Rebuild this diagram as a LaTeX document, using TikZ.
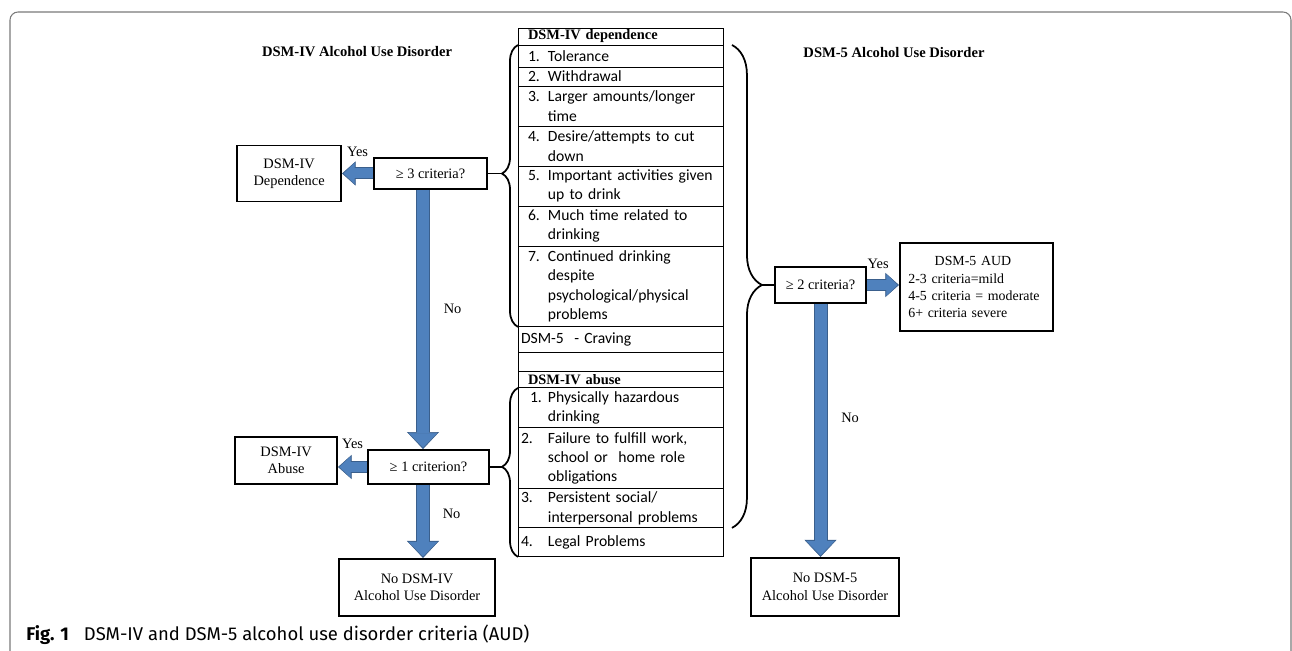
\documentclass[tikz,border=0pt]{standalone}
\usepackage{fontspec}
\setmainfont{Liberation Serif}
\newfontfamily\calibri{Carlito}
\newfontfamily\capfont{Fira Sans}
\usetikzlibrary{arrows.meta,decorations.pathreplacing,positioning}

\definecolor{arrowblue}{HTML}{4F81BD}
\definecolor{arrowedge}{HTML}{3A5F8C}
\definecolor{framegray}{HTML}{7A7A7A}

% numbered criterion with hanging text
\newcommand{\crit}[3][0.4cm]{\hspace*{\dimexpr0.4cm-#1\relax}\makebox[#1][l]{#2}\parbox[t]{3.4cm}{\raggedright #3}}

\tikzset{
  box/.style={draw, line width=1.1pt, align=center, inner sep=1pt, font=\fontsize{8.2}{9.8}\selectfont},
  cell/.style={draw, line width=0.5pt, anchor=north west, outer sep=0pt, minimum width=4.1cm, text width=3.7cm,
    inner xsep=0.2cm, inner ysep=0pt, align=left, font=\calibri\fontsize{8.9}{11}\selectfont},
  hdrcell/.style={font=\bfseries\fontsize{8.2}{9.8}\selectfont},
  title/.style={font=\bfseries\fontsize{8.3}{10}\selectfont},
  lbl/.style={text=black, font=\fontsize{8.2}{9.8}\selectfont, inner sep=1pt},
  bigarrow/.style={arrowblue, line width=0.24cm, -{Triangle[width=0.57cm,length=0.29cm,line width=0.3pt]}, shorten >=0.03cm,
    preaction={draw=arrowedge, line width=0.28cm, -{Triangle[width=0.64cm,length=0.34cm,line width=0.3pt]}, shorten >=0cm}},
  smallarrow/.style={arrowblue, line width=0.2cm, -{Triangle[width=0.42cm,length=0.22cm,line width=0.3pt]}, shorten >=0.03cm,
    preaction={draw=arrowedge, line width=0.24cm, -{Triangle[width=0.48cm,length=0.27cm,line width=0.3pt]}, shorten >=0cm}},
  curly/.style 2 args={decorate, decoration={brace, amplitude=#1, aspect=#2}, line width=1pt},
}

\begin{document}
\begin{tikzpicture}[x=0.02cm, y=-0.02cm]
\useasboundingbox (0,0) rectangle (1292,651);
\draw[framegray, line width=0.6pt, rounded corners=0.16cm] (10,12) rectangle (1291,690);

% titles
\node[title] (ttl4) at (357,52) {DSM-IV Alcohol Use Disorder};
\node[title] (ttl5) at (894,53) {DSM-5 Alcohol Use Disorder};

% DSM-IV side
\node[box, minimum width=2.26cm, minimum height=0.62cm] (crit3) at (430.5,173.5) {≥ 3 criteria?};
\node[box, minimum width=2.08cm, minimum height=1.12cm, left=0.62cm of crit3] (dep) {DSM-IV\\Dependence};
\node[box, minimum width=2.42cm, minimum height=0.68cm] (crit1) at (428.5,467) {≥ 1 criterion?};
\node[box, minimum width=2.04cm, minimum height=0.94cm, left=0.58cm of crit1, yshift=0.13cm] (abuse) {DSM-IV\\Abuse};
\node[box, minimum width=3.12cm, minimum height=1.14cm, below=1.46cm of crit1, xshift=-0.23cm] (noIV) {No DSM-IV\\Alcohol Use Disorder};

% DSM-5 side
\node[box, minimum width=1.82cm, minimum height=0.72cm] (crit2) at (820.5,285) {≥ 2 criteria?};
\node[box, minimum width=3.06cm, minimum height=1.76cm, text width=2.72cm, align=left, right=0.64cm of crit2, yshift=-0.04cm,
  font=\fontsize{7.9}{9.7}\selectfont] (aud)
  {\makebox[2.58cm]{DSM-5 AUD}\\2-3 criteria=mild\\4-5 criteria = moderate\\6+ criteria severe};
\node[box, minimum width=2.96cm, minimum height=1.16cm, below=5.06cm of crit2, xshift=0.09cm] (noV) {No DSM-5\\Alcohol Use Disorder};

% criteria table
\node[cell, hdrcell, minimum height=0.34cm] (dhdr) at (518,28) {DSM-IV dependence};
\node[cell, minimum height=0.44cm] (d1) at (dhdr.south west) {\crit{1.}{Tolerance}};
\node[cell, minimum height=0.38cm] (d2) at (d1.south west) {\crit{2.}{Withdrawal}};
\node[cell, minimum height=0.80cm] (d3) at (d2.south west) {\crit{3.}{Larger amounts/longer\\time}};
\node[cell, minimum height=0.80cm] (d4) at (d3.south west) {\crit{4.}{Desire/attempts to cut\\down}};
\node[cell, minimum height=0.80cm] (d5) at (d4.south west) {\crit{5.}{Important activities given\\up to drink}};
\node[cell, minimum height=0.80cm] (d6) at (d5.south west) {\crit{6.}{Much time related to\\drinking}};
\node[cell, minimum height=1.62cm] (d7) at (d6.south west) {\crit{7.}{Continued drinking\\despite\\psychological/physical\\problems}};
\node[cell, minimum height=0.52cm] (crav) at (d7.south west) {\hspace*{-0.14cm}DSM-5\ \ - Craving};
\node[cell, minimum height=0.38cm] (blank) at (crav.south west) {};
\node[cell, hdrcell, minimum height=0.32cm] (ahdr) at (blank.south west) {DSM-IV abuse};
\node[cell, minimum height=0.80cm] (a1) at (ahdr.south west) {\crit[0.36cm]{1.}{Physically hazardous\\drinking}};
\node[cell, minimum height=1.22cm] (a2) at (a1.south west) {\crit[0.54cm]{2.}{Failure to fulfill work,\\school or\ \ home role\\obligations}};
\node[cell, minimum height=0.78cm] (a3) at (a2.south west) {\crit[0.54cm]{3.}{Persistent social/\\interpersonal problems}};
\node[cell, minimum height=0.58cm] (a4) at (a3.south west) {\crit[0.54cm]{4.}{Legal Problems}};

% braces
\coordinate (tipdep) at (502,173.5);
\coordinate (tipab) at (502,467);
\coordinate (tip5) at (762,285);
\draw[curly={0.32cm}{0.544}] (d7.south west) -- (d1.north west);
\draw[curly={0.32cm}{0.533}] (a4.south west) -- (a1.north west);
\draw[curly={0.6cm}{0.497}] ([xshift=0.18cm]d1.north east) -- ([xshift=0.18cm]a3.south east);
\draw[line width=1pt] (crit3.east) -- (tipdep);
\draw[line width=1pt] (crit1.east) -- (tipab);
\draw[line width=1pt] (crit2.west) -- (tip5);

% block arrows
\coordinate (colL) at (423,0);
\draw[smallarrow] (crit3.west) -- (dep.east) node[lbl, midway, above=0.2cm] {Yes};
\draw[bigarrow] (crit3.south -| colL) -- (crit1.north -| colL) node[lbl, pos=0.46, right=0.26cm] {No};
\draw[smallarrow] (crit1.west) -- (crit1.west -| abuse.east) node[lbl, midway, above=0.24cm] {Yes};
\draw[bigarrow] (crit1.south -| colL) -- (noIV.north -| colL) node[lbl, pos=0.4, right=0.24cm] {No};
\draw[smallarrow] (crit2.east) -- (crit2.east -| aud.west) node[lbl, pos=0.35, above=0.2cm] {Yes};
\draw[bigarrow] (crit2.south) -- (crit2.south |- noV.north) node[lbl, pos=0.45, right=0.26cm] {No};

% caption
\node[anchor=west, inner sep=0pt, font=\capfont\fontsize{10.5}{12}\selectfont] (cap) at (26,635)
  {\textbf{Fig. 1}\hspace{8.5pt}DSM-IV and DSM-5 alcohol use disorder criteria (AUD)};
\end{tikzpicture}
\end{document}
